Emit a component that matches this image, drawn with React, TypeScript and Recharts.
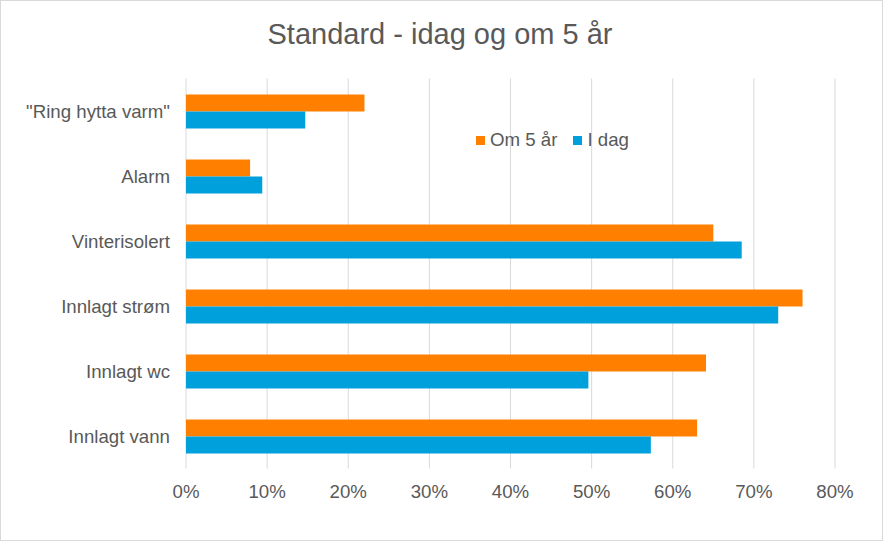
import React from "react";
import {
  Bar,
  XAxis,
  YAxis,
  Legend,
  BarChart,
  CartesianGrid,
} from "recharts";

const categories = [
  '"Ring hytta varm"',
  "Alarm",
  "Vinterisolert",
  "Innlagt strøm",
  "Innlagt wc",
  "Innlagt vann",
];
const om5Aar = [0.22, 0.079, 0.65, 0.76, 0.641, 0.63];
const iDag = [0.147, 0.094, 0.685, 0.73, 0.496, 0.573];
const xTicks = [0, 0.1, 0.2, 0.3, 0.4, 0.5, 0.6, 0.7, 0.8];
const seriesOrder = ["om5", "idag"];

const ORANGE = "#FF8000";
const BLUE = "#00A0DC";
const TEXT = "#595959";
const FONT = "'Liberation Sans', Arial, sans-serif";

const data = categories.map((name, i) => ({
  name,
  om5: om5Aar[i],
  idag: iDag[i],
}));

const renderLegend = (props: any) => {
  const payload = [...(props.payload || [])].sort(
    (a: any, b: any) => seriesOrder.indexOf(a.dataKey) - seriesOrder.indexOf(b.dataKey)
  );
  return (
    <div style={{ display: "flex", alignItems: "center", fontFamily: FONT, fontSize: 18.67, color: TEXT }}>
      {payload.map((item: any, i: number) => (
        <div key={i} style={{ display: "flex", alignItems: "center", marginRight: 16 }}>
          <span style={{ width: 9, height: 9, background: item.color, marginRight: 5, display: "inline-block" }} />
          <span>{item.value}</span>
        </div>
      ))}
    </div>
  );
};

const App: React.FC = () => {
  return (
    <div style={{ position: "absolute", left: 0, top: 0, width: 883, height: 541, background: "#fff" }}>
      <div
        style={{
          position: "absolute",
          left: 0,
          top: 19.5,
          width: 880,
          textAlign: "center",
          fontFamily: FONT,
          fontSize: 29,
          lineHeight: "29px",
          color: TEXT,
        }}
      >
        Standard - idag og om 5 år
      </div>
      <BarChart
        width={883}
        height={541}
        data={data}
        layout="vertical"
        barSize={17}
        barGap={0}
        margin={{ top: 78.5, right: 48, bottom: 42.5, left: 0 }}
        style={{ position: "absolute", left: 0, top: 0 }}
      >
        <CartesianGrid horizontal={false} stroke="#D9D9D9" />
        <XAxis
          type="number"
          domain={[0, 0.8]}
          ticks={xTicks}
          tickFormatter={(v: number) => `${Math.round(v * 100)}%`}
          axisLine={false}
          tickLine={false}
          tickSize={0}
          tickMargin={16}
          height={30}
          tick={{ fill: TEXT, fontSize: 18.67, fontFamily: FONT }}
        />
        <YAxis
          type="category"
          dataKey="name"
          width={186}
          axisLine={false}
          tickLine={false}
          tickSize={0}
          tickMargin={16}
          tick={{ fill: TEXT, fontSize: 18.67, fontFamily: FONT }}
        />
        <Legend
          content={renderLegend}
          verticalAlign="middle"
          wrapperStyle={{ position: "absolute", top: 129, left: 476, width: "auto" }}
        />
        <Bar dataKey="om5" name="Om 5 år" fill={ORANGE} isAnimationActive={false} />
        <Bar dataKey="idag" name="I dag" fill={BLUE} isAnimationActive={false} />
      </BarChart>
      <div
        style={{
          position: "absolute",
          left: 0,
          top: 0,
          width: 883,
          height: 541,
          boxSizing: "border-box",
          border: "1px solid #D9D9D9",
          pointerEvents: "none",
        }}
      />
    </div>
  );
};

export default App;
